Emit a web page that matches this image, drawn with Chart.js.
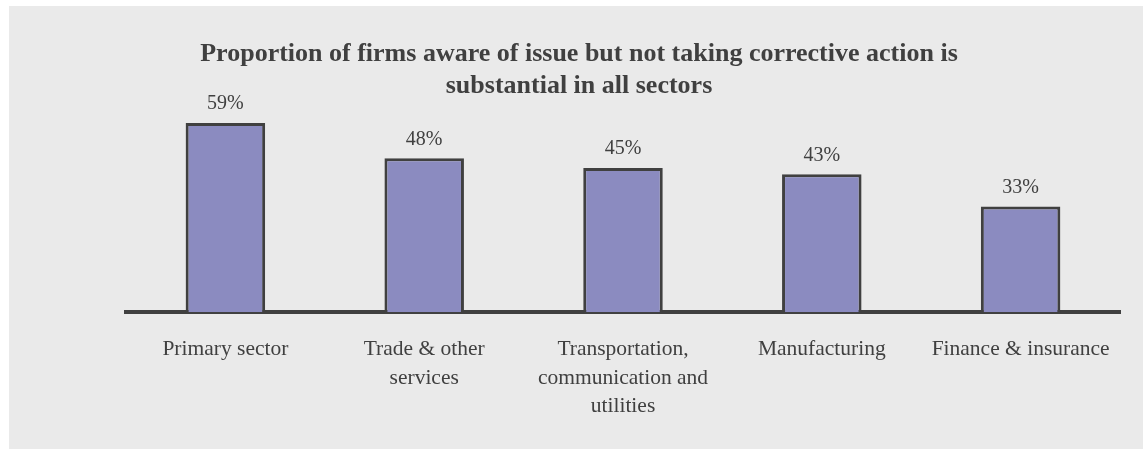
<!DOCTYPE html>
<html>
<head>
<meta charset="utf-8">
<script src="https://cdn.jsdelivr.net/npm/chart.js@4/dist/chart.umd.min.js"></script>
<style>
  html, body { margin: 0; padding: 0; background: #ffffff; }
  #wrap {
    position: absolute;
    left: 9px;
    top: 6px;
    width: 1134px;
    height: 443px;
    background: #eaeaea;
  }
</style>
</head>
<body>
<div id="wrap"><canvas id="chartSectors" width="1134" height="443"></canvas></div>
<script>
const sectors = [
  "Primary sector",
  ["Trade & other", "services"],
  ["Transportation,", "communication and", "utilities"],
  "Manufacturing",
  "Finance & insurance",
];
const awareNoAction = [59, 48, 45, 43, 33];

const titleLines = [
  "Proportion of firms aware of issue but not taking corrective action is",
  "substantial in all sectors",
];

const serif = "'Times New Roman', 'Liberation Serif', serif";
const textColor = "#404040";

// percentage written above each bar
const valueLabels = {
  id: "valueLabels",
  afterDatasetsDraw(chart) {
    const ctx = chart.ctx;
    const meta = chart.getDatasetMeta(0);
    ctx.save();
    ctx.font = "20px " + serif;
    ctx.fillStyle = textColor;
    ctx.textAlign = "center";
    ctx.textBaseline = "middle";
    meta.data.forEach((bar, i) => {
      ctx.fillText(awareNoAction[i] + "%", bar.x, bar.y - 19);
    });
    ctx.restore();
  },
};

// empty side axes only reserve room so the title stays centred on the panel
const spacer = (w, pos) => ({
  position: pos,
  display: true,
  grid: { display: false, drawTicks: false },
  border: { display: false },
  ticks: { display: false },
  afterFit(scale) {
    scale.width = w;
  },
});

const ctx = document.getElementById("chartSectors").getContext("2d");
const myChart = new Chart(ctx, {
  type: "bar",
  data: {
    labels: sectors,
    datasets: [
      {
        data: awareNoAction,
        backgroundColor: "#8b8bc0",
        borderColor: "#404040",
        borderWidth: 3,
        borderSkipped: "bottom",
        barPercentage: 0.4,
        categoryPercentage: 1,
      },
    ],
  },
  options: {
    responsive: false,
    animation: false,
    layout: {
      padding: { left: 6, right: 0, top: 0, bottom: 5 },
    },
    plugins: {
      legend: { display: false },
      tooltip: { enabled: false },
      title: {
        display: true,
        text: titleLines,
        color: textColor,
        font: { family: serif, size: 26, weight: "bold", lineHeight: 1.23 },
        padding: { top: 32, bottom: 5 },
      },
    },
    scales: {
      y: Object.assign(spacer(111, "left"), { min: 0, max: 64 }),
      yRight: spacer(23, "right"),
      x: {
        grid: { display: false, drawTicks: false },
        border: { display: true, color: "#404040", width: 4 },
        ticks: {
          color: textColor,
          padding: 23,
          maxRotation: 0,
          autoSkip: false,
          font: { family: serif, size: 21.5, lineHeight: 1.33 },
        },
      },
    },
  },
  plugins: [valueLabels],
});
</script>
</body>
</html>
